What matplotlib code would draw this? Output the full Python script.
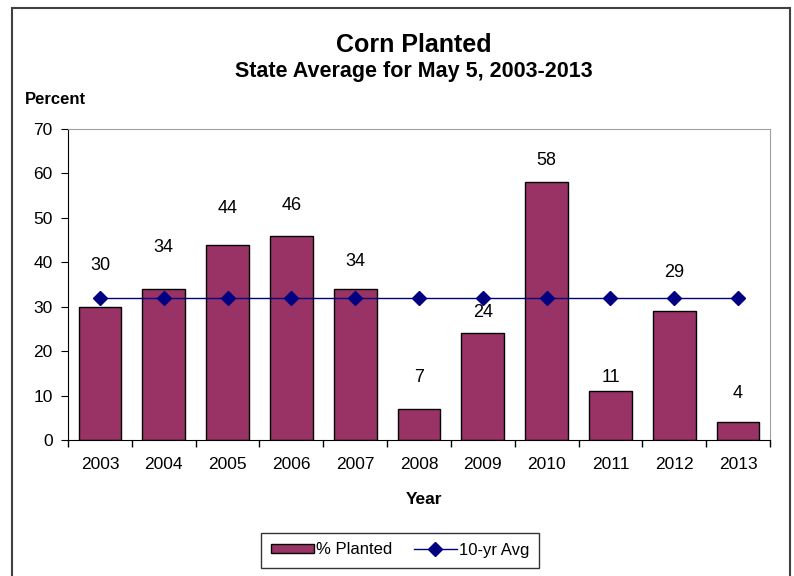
import matplotlib.pyplot as plt
from matplotlib.patches import Rectangle
import numpy as np

plt.rcParams['font.family'] = ['Liberation Sans', 'DejaVu Sans']

years = ['2003', '2004', '2005', '2006', '2007', '2008', '2009', '2010', '2011', '2012', '2013']
planted = [30, 34, 44, 46, 34, 7, 24, 58, 11, 29, 4]
avg_10yr = [32] * 11
# where Excel left the data labels (data units)
label_y = [39.2, 43.4, 52.2, 52.7, 40.1, 14.0, 28.6, 62.8, 14.0, 37.8, 10.4]

fig = plt.figure(figsize=(7.94, 5.76), dpi=100)
fig.patches.append(Rectangle((12 / 794, -0.1), 778 / 794, 1.1 - 8 / 576, transform=fig.transFigure,
                             fill=False, edgecolor='#404040', linewidth=1.5))
ax = fig.add_axes([68 / 794, 136 / 576, 702 / 794, 311 / 576])

x = np.arange(len(years))
bars = ax.bar(x, planted, width=0.67, color='#993366', edgecolor='black', linewidth=1,
              label='% Planted', zorder=2)
line, = ax.plot(x, avg_10yr, color='#000080', linewidth=1, marker='D', markersize=7,
                label='10-yr Avg', zorder=3)

for xi, v, ly in zip(x, planted, label_y):
    ax.text(xi, ly, str(v), ha='center', va='center', fontsize=13)

ax.set_xlim(-0.5, len(years) - 0.5)
ax.set_ylim(0, 70)
ax.set_yticks(range(0, 71, 10))
ax.set_xticks(x)
ax.set_xticklabels(years)
ax.set_xticks(np.arange(-0.5, len(years)), minor=True)
ax.tick_params(axis='x', which='major', length=0, labelsize=12.5, pad=12)
ax.tick_params(axis='x', which='minor', length=5, direction='out', width=1)
ax.tick_params(axis='y', length=5, direction='out', labelsize=12.5, pad=6)
ax.spines['top'].set_color('#a0a0a0')
ax.spines['right'].set_color('#a0a0a0')

fig.text(414 / 794, 1 - 45 / 576, 'Corn Planted', ha='center', va='center', fontsize=18, fontweight='bold')
fig.text(414 / 794, 1 - 71 / 576, 'State Average for May 5, 2003-2013', ha='center', va='center',
         fontsize=15.5, fontweight='bold')
fig.text(25 / 794, 1 - 100 / 576, 'Percent', ha='left', va='center', fontsize=12, fontweight='bold')
fig.text(424 / 794, 1 - 500 / 576, 'Year', ha='center', va='center', fontsize=12.5, fontweight='bold')

fig.legend([bars, line], ['% Planted', '10-yr Avg'], loc='center',
           bbox_to_anchor=(400 / 794, 1 - 550 / 576), ncol=2, frameon=True,
           fancybox=False, edgecolor='black', fontsize=12, handlelength=2.6, handleheight=0.5,
           handletextpad=0.1, columnspacing=1.3, borderpad=0.6)

plt.savefig('out.png', dpi=100)
